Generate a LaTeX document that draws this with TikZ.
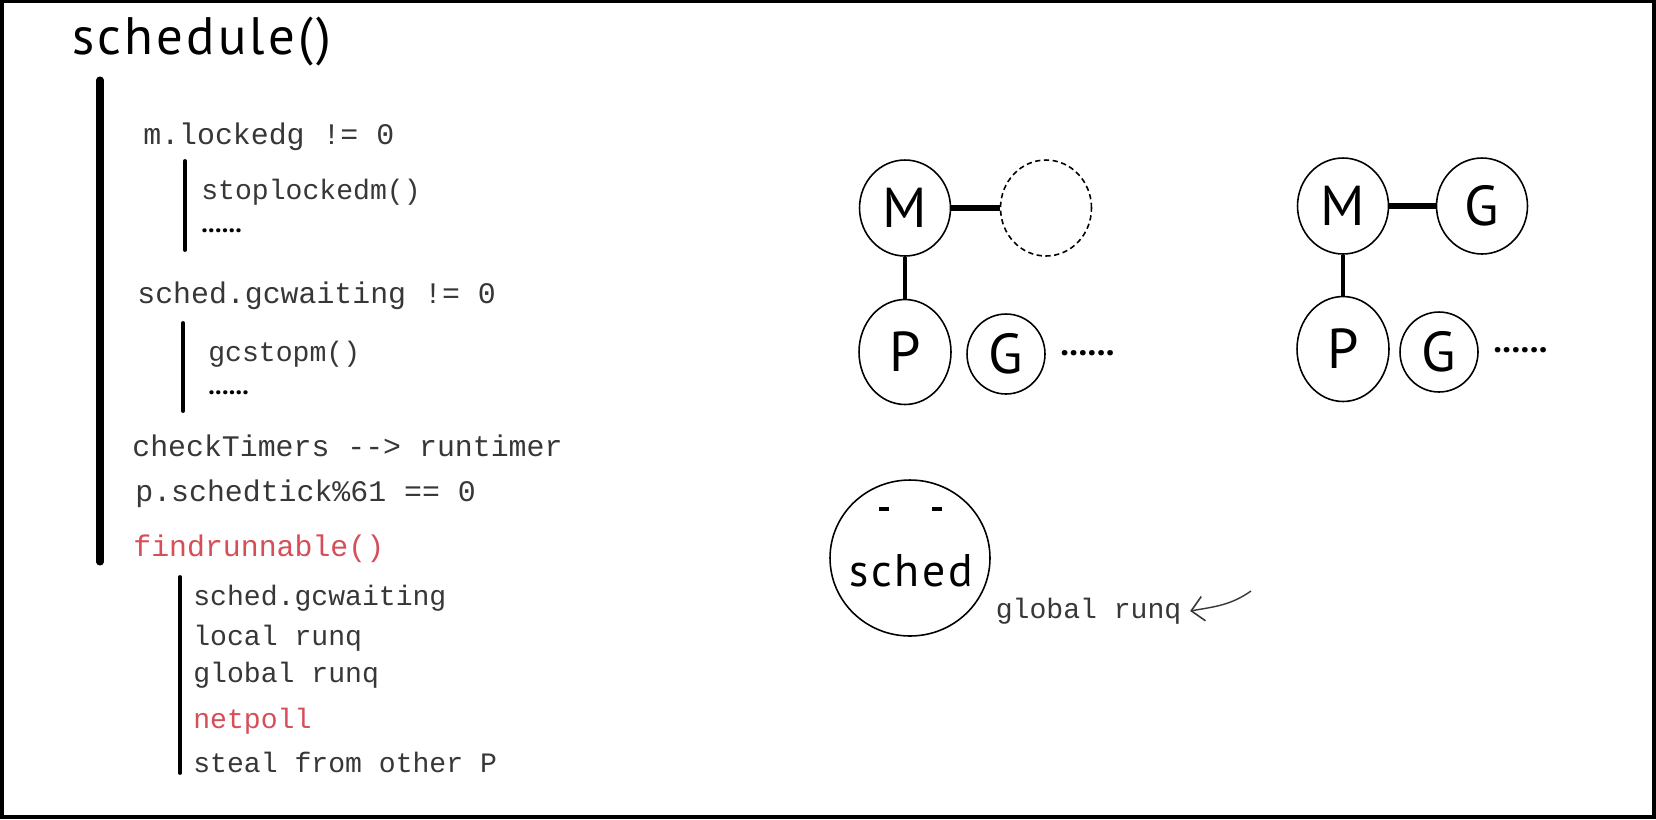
\documentclass[tikz,border=0pt]{standalone}
\usepackage{fontspec}
\setmainfont{Liberation Mono}
\newfontfamily\handfont[LetterSpace=6]{PT Sans}
\newfontfamily\dotfont{PT Sans}
\usepackage{tikz}
\usetikzlibrary{arrows.meta, positioning, shapes.geometric}
\definecolor{inkgray}{RGB}{55,55,55}
\definecolor{hotred}{RGB}{214,78,88}

\begin{document}
\begin{tikzpicture}
[
    x=0.02cm, y=-0.02cm,
    node distance=1cm,
    title/.style={anchor=west, inner sep=0pt, font=\handfont\fontsize{30}{30}\selectfont},
    item/.style={anchor=west, inner sep=0pt, text=inkgray, font=\fontsize{17}{20}\selectfont},
    subitem/.style={item, font=\fontsize{16}{18}\selectfont},
    hot/.style={text=hotred},
    more/.style={anchor=west, inner sep=0pt, font=\dotfont\bfseries\fontsize{15}{18}\selectfont},
    bigmore/.style={more, font=\dotfont\bfseries\fontsize{20}{20}\selectfont},
    bigbar/.style={line width=4pt, line cap=round},
    bar/.style={line width=2.2pt, line cap=round},
    ring/.style={
        draw,
        ellipse,
        line width=0.9pt,
        inner sep=0pt,
        minimum width=1.82cm,
        minimum height=1.92cm,
        font=\handfont\fontsize{32}{32}\selectfont,
    },
    tallring/.style={ring, minimum width=1.84cm, minimum height=2.1cm},
    smallring/.style={ring, minimum width=1.56cm, minimum height=1.6cm},
    voidring/.style={ring, dash pattern=on 3pt off 2pt},
    link/.style={line width=3pt},
    stem/.style={line width=2.3pt},
    arrow/.style={-{Straight Barb[length=7pt,width=14pt,line width=0.9pt]}, line width=0.8pt, inkgray}
]

% Frame
\fill[black] (0,0) rectangle (1656,819);
\fill[white] (4,3) rectangle (1652,815);

% Left: the code outline
\node[title] (sched-fn) at (72,42) {schedule()};
\draw[bigbar] (100,80) -- (100,562);

\node[item] (lockedg) at (143,137) {m.lockedg != 0};
\draw[bar] (185,161) -- (185,250);
\node[subitem] (stoplockedm) at (201,192) {stoplockedm()};
\node[more] (more1) at (201,231) {......};

\node[item] (gcwaiting) at (137,296) {sched.gcwaiting != 0};
\draw[bar] (183,323) -- (183,411);
\node[subitem] (gcstopm) at (208,354) {gcstopm()};
\node[more] (more2) at (208,393) {......};

\node[item] (timers) at (132,446) {checkTimers -{}-> runtimer};
\node[item] (schedtick) at (135,494) {p.schedtick\%61 == 0};
\node[item, hot] (findrunnable) at (133,549) {findrunnable()};

\draw[bar] (180,577) -- (180,773);
\node[subitem] (gcwait2) at (193,598) {sched.gcwaiting};
\node[subitem] (localq) at (193,638) {local runq};
\node[subitem] (globalq) at (193,675) {global runq};
\node[subitem, hot] (netpoll) at (193,721) {netpoll};
\node[subitem] (steal) at (193,762) {steal from other P};

% Right: M, P and G before and after
\node[ring] (m1) at (905,208) {M};
\node[voidring] (void1) at (1046,208) {};
\node[tallring] (p1) at (905,352) {P};
\node[smallring] (g1) at (1006,354) {G};
\node[bigmore] (dots1) at (1060,353) {......};
\draw[link] (m1) -- (void1);
\draw[stem] (m1) -- (p1);

\node[ring] (m2) at (1343,206) {M};
\node[ring] (g2) at (1482,206) {G};
\node[tallring] (p2) at (1343,349) {P};
\node[smallring] (g3) at (1439,352) {G};
\node[bigmore] (dots2) at (1493,350) {......};
\draw[link] (m2) -- (g2);
\draw[stem] (m2) -- (p2);

% sched and its global runq
\node[ring, minimum width=3.2cm, minimum height=3.12cm] (sched) at (910,558) {};
\node[inner sep=0pt, font=\handfont\fontsize{26}{26}\selectfont] (schedname) at (911,571) {sched};
\draw[line width=1.8pt] (879,509) -- (889,509);
\draw[line width=1.8pt] (932,509) -- (942,509);
\node[subitem, outer sep=5pt] (runq) at (987,611) {global runq};
\coordinate (arrowtail) at (1251,591);
\draw[arrow] (arrowtail) to[out=215,in=10] (runq.east);

\end{tikzpicture}
\end{document}
